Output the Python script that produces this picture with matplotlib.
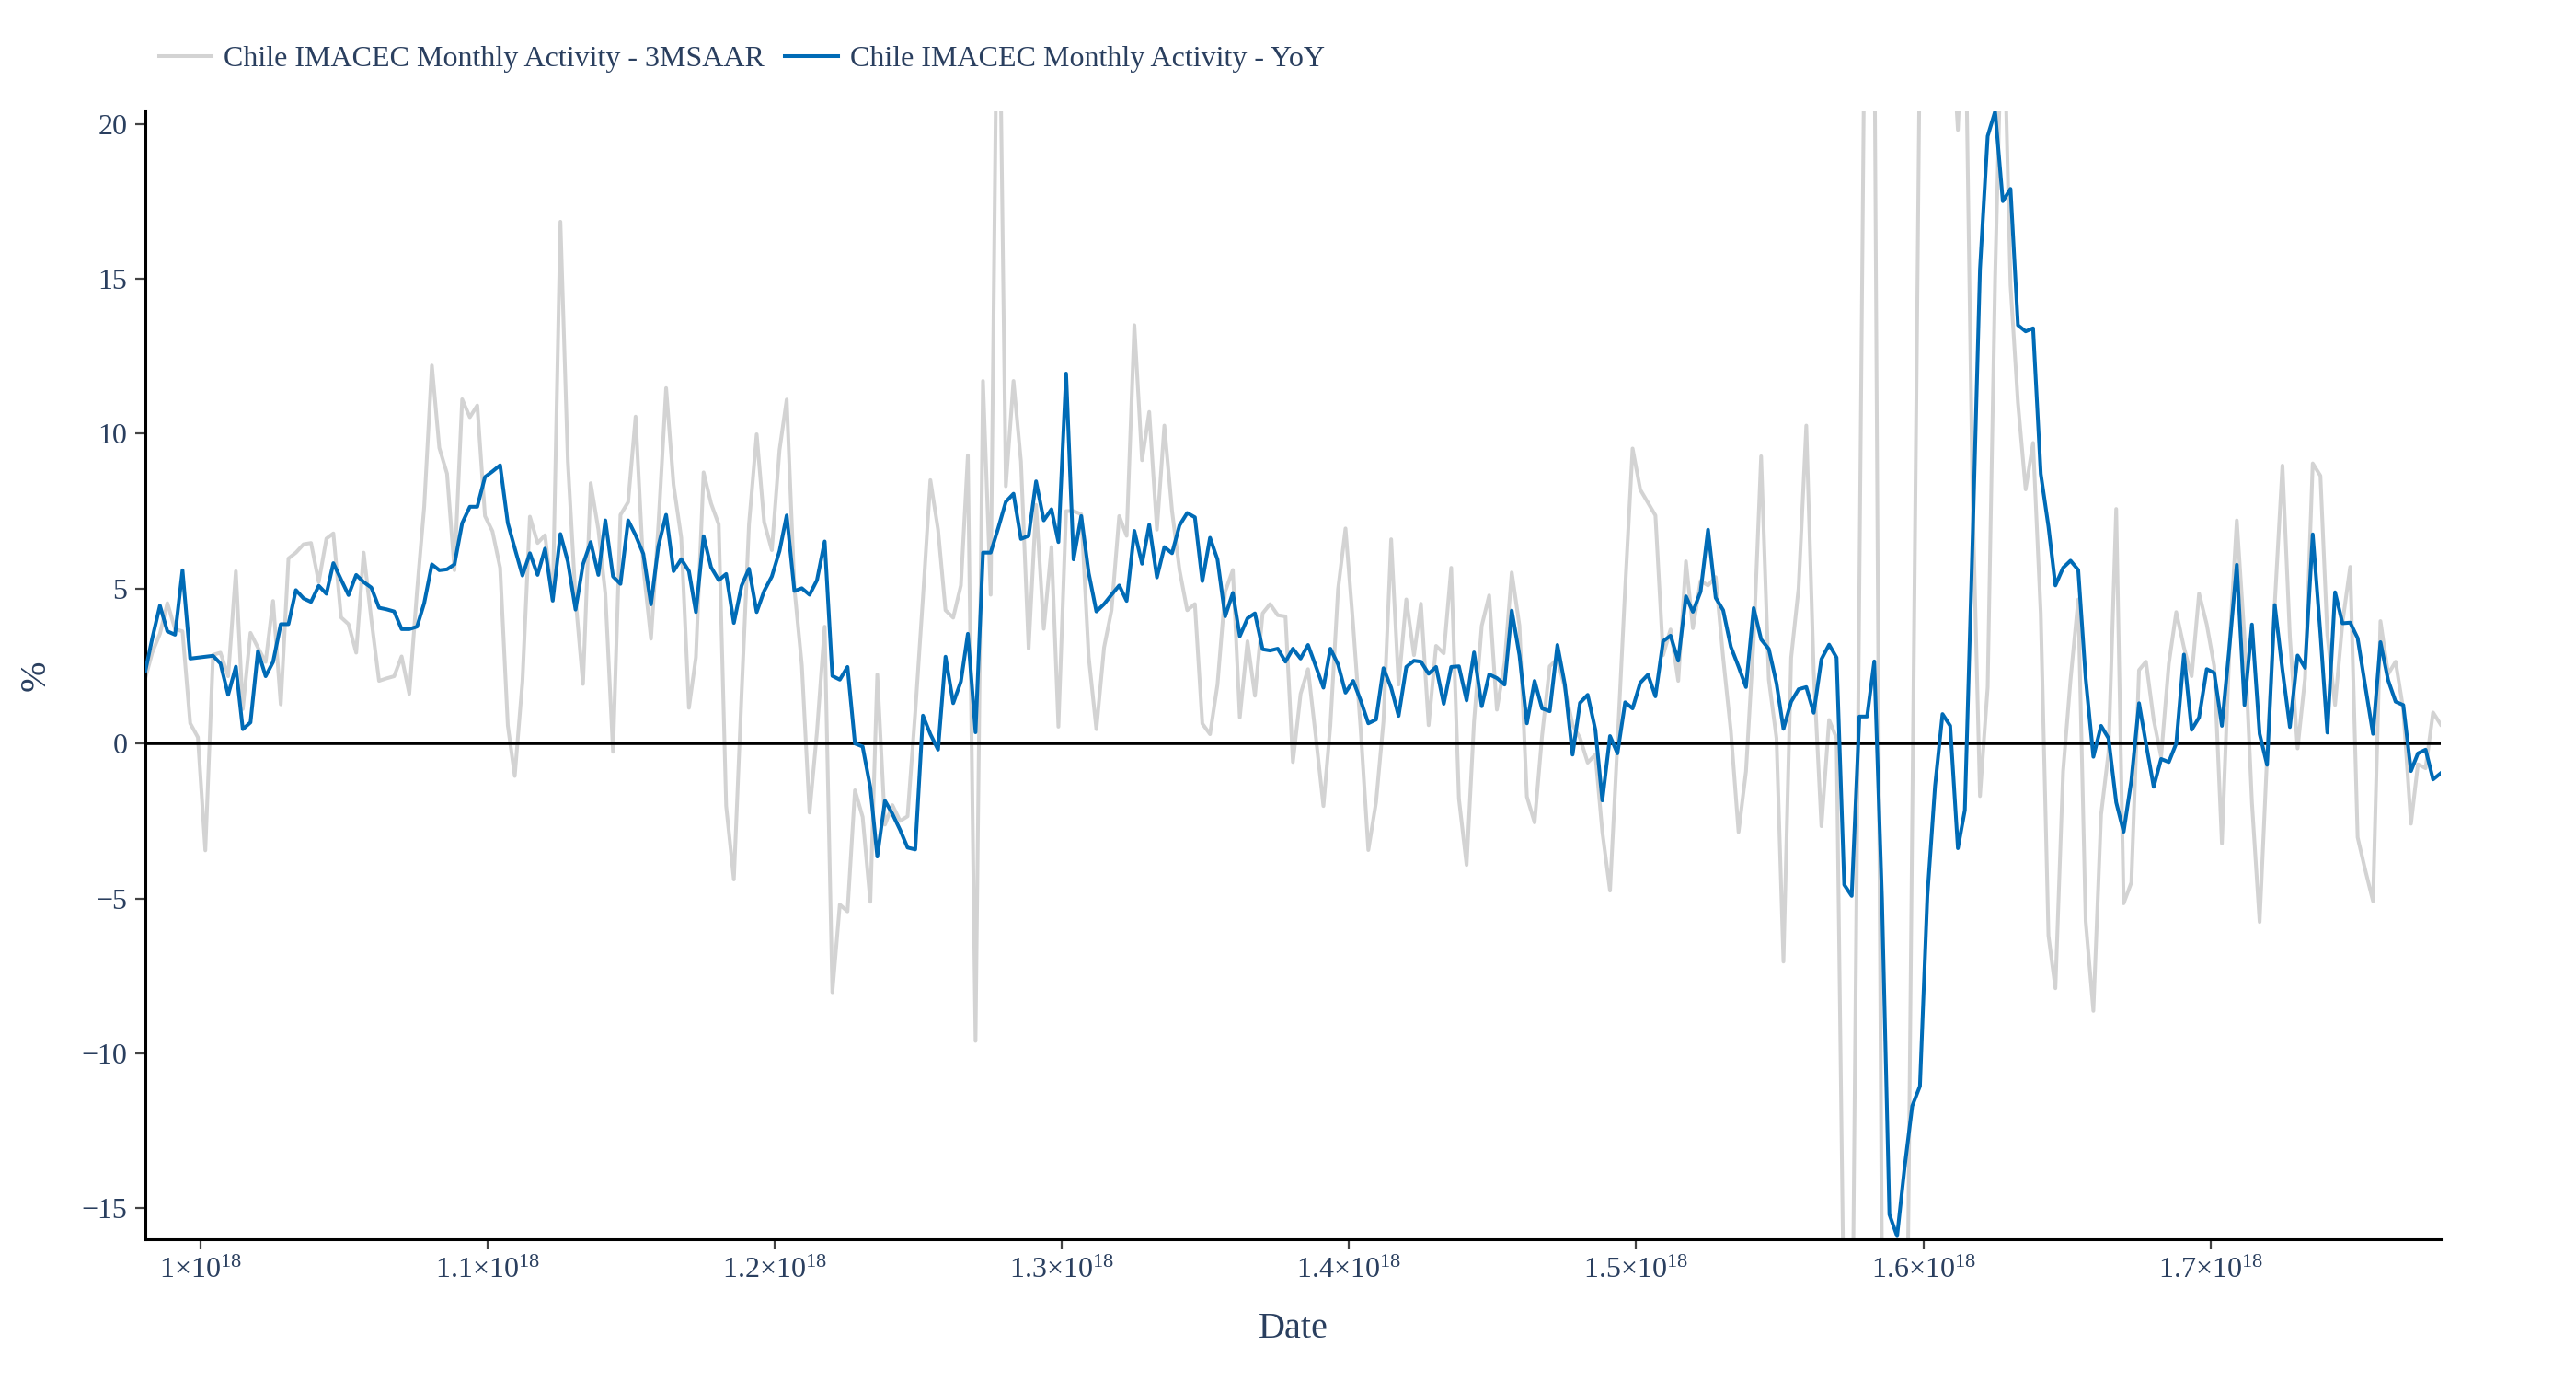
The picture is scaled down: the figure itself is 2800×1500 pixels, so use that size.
import numpy as np
import pandas as pd
import matplotlib
matplotlib.use("Agg")
import matplotlib.pyplot as plt

# Monthly observations, Jan 2001 - May 2026 (month end)
dates = pd.date_range("2001-01-31", "2026-05-31", freq="ME")

# Chile IMACEC - year over year growth (%)
yoy = [
    2.33, 3.39, 4.45, 3.62, 3.51, 5.59, 2.74, 2.77, 2.80, 2.83,
    2.58, 1.57, 2.48, 0.46, 0.68, 2.98, 2.17, 2.63, 3.85, 3.85,
    4.95, 4.68, 4.57, 5.09, 4.83, 5.82, 5.29, 4.79, 5.44, 5.21,
    5.03, 4.38, 4.33, 4.26, 3.69, 3.69, 3.77, 4.53, 5.78, 5.59,
    5.62, 5.78, 7.11, 7.64, 7.64, 8.60, 8.78, 8.98, 7.11, 6.30,
    5.42, 6.14, 5.44, 6.29, 4.61, 6.76, 5.87, 4.32, 5.78, 6.50,
    5.44, 7.20, 5.39, 5.15, 7.20, 6.72, 6.12, 4.49, 6.38, 7.38,
    5.56, 5.95, 5.56, 4.24, 6.69, 5.69, 5.27, 5.47, 3.89, 5.09,
    5.64, 4.24, 4.92, 5.39, 6.21, 7.36, 4.92, 5.01, 4.80, 5.27,
    6.52, 2.18, 2.06, 2.47, 0.00, -0.10, -1.42, -3.65, -1.85, -2.27,
    -2.79, -3.36, -3.42, 0.90, 0.30, -0.20, 2.80, 1.30, 2.00, 3.54,
    0.36, 6.16, 6.16, 6.94, 7.80, 8.06, 6.60, 6.70, 8.46, 7.20,
    7.56, 6.50, 11.94, 5.94, 7.34, 5.50, 4.26, 4.50, 4.80, 5.10,
    4.60, 6.86, 5.80, 7.06, 5.36, 6.34, 6.14, 7.04, 7.44, 7.30,
    5.24, 6.64, 5.94, 4.10, 4.86, 3.46, 4.04, 4.20, 3.04, 3.00,
    3.06, 2.64, 3.06, 2.74, 3.18, 2.50, 1.80, 3.06, 2.55, 1.64,
    2.02, 1.39, 0.65, 0.77, 2.43, 1.80, 0.89, 2.47, 2.67, 2.64,
    2.25, 2.47, 1.28, 2.47, 2.49, 1.39, 2.94, 1.20, 2.23, 2.11,
    1.90, 4.29, 2.85, 0.65, 2.02, 1.13, 1.04, 3.18, 1.90, -0.36,
    1.31, 1.57, 0.44, -1.84, 0.24, -0.32, 1.33, 1.13, 1.96, 2.22,
    1.52, 3.30, 3.48, 2.67, 4.75, 4.25, 4.90, 6.90, 4.70, 4.30,
    3.12, 2.48, 1.82, 4.37, 3.36, 3.05, 1.94, 0.47, 1.35, 1.75,
    1.82, 0.99, 2.72, 3.19, 2.77, -4.56, -4.92, 0.87, 0.87, 2.65,
    -5.00, -15.20, -15.90, -13.70, -11.70, -11.06, -4.92, -1.37, 0.95, 0.57,
    -3.38, -2.15, 6.50, 15.30, 19.60, 20.40, 17.50, 17.90, 13.50, 13.30,
    13.40, 8.70, 7.00, 5.10, 5.67, 5.90, 5.60, 2.10, -0.43, 0.57,
    0.17, -1.90, -2.85, -1.20, 1.30, 0.00, -1.40, -0.50, -0.60, 0.00,
    2.87, 0.44, 0.84, 2.40, 2.28, 0.57, 3.17, 5.77, 1.24, 3.84,
    0.31, -0.69, 4.47, 2.37, 0.53, 2.84, 2.44, 6.75, 3.55, 0.35,
    4.88, 3.88, 3.90, 3.40, 1.84, 0.31, 3.27, 2.04, 1.35, 1.24,
    -0.89, -0.32, -0.20, -1.16, -0.96,
]

# Chile IMACEC - 3 month seasonally adjusted annualised rate (%)
saar3m = [
    2.10, 2.93, 3.54, 4.53, 3.69, 3.62, 0.65, 0.20, -3.45, 2.86,
    2.93, 2.17, 5.56, 1.11, 3.57, 3.09, 2.63, 4.60, 1.26, 5.97,
    6.16, 6.43, 6.47, 5.21, 6.61, 6.78, 4.07, 3.85, 2.93, 6.16,
    4.00, 2.02, 2.10, 2.17, 2.81, 1.60, 4.91, 7.64, 12.20, 9.54,
    8.71, 5.59, 11.11, 10.53, 10.91, 7.34, 6.85, 5.67, 0.58, -1.05,
    2.00, 7.32, 6.47, 6.72, 4.60, 16.84, 9.10, 4.67, 1.92, 8.40,
    6.90, 4.84, -0.27, 7.38, 7.79, 10.55, 5.69, 3.38, 7.07, 11.47,
    8.35, 6.64, 1.15, 2.78, 8.75, 7.75, 7.07, -2.02, -4.39, 1.58,
    7.07, 9.98, 7.15, 6.24, 9.47, 11.10, 5.01, 2.52, -2.23, 0.38,
    3.77, -8.03, -5.20, -5.42, -1.51, -2.37, -5.11, 2.23, -2.62, -1.99,
    -2.50, -2.35, 1.00, 4.70, 8.50, 6.90, 4.30, 4.06, 5.10, 9.30,
    -9.60, 11.70, 4.80, 28.00, 8.30, 11.70, 9.10, 3.06, 7.70, 3.70,
    6.34, 0.54, 7.50, 7.50, 7.40, 2.80, 0.46, 3.10, 4.30, 7.34,
    6.70, 13.50, 9.14, 10.70, 6.90, 10.26, 7.50, 5.60, 4.30, 4.50,
    0.64, 0.30, 1.90, 4.90, 5.60, 0.84, 3.30, 1.54, 4.20, 4.50,
    4.14, 4.10, -0.60, 1.60, 2.40, 0.24, -2.02, 0.59, 4.98, 6.94,
    3.80, 0.47, -3.44, -1.90, 0.71, 6.59, 1.90, 4.65, 2.85, 4.51,
    0.59, 3.15, 2.91, 5.67, -1.78, -3.92, 0.71, 3.80, 4.78, 1.09,
    2.60, 5.52, 3.80, -1.72, -2.55, 0.24, 2.49, 2.73, 1.78, 0.60,
    0.18, -0.62, -0.36, -2.85, -4.75, 0.00, 5.00, 9.52, 8.19, 7.77,
    7.36, 2.85, 3.68, 2.02, 5.88, 3.72, 5.25, 5.10, 5.37, 2.77,
    0.40, -2.86, -0.90, 3.36, 9.27, 2.06, 0.17, -7.04, 2.77, 5.01,
    10.26, 2.30, -2.67, 0.76, 0.17, -19.50, -22.00, 5.00, 32.50, 24.00,
    -17.00, -45.00, -50.00, -28.00, -2.50, 23.00, 40.00, 35.00, 28.00, 24.00,
    19.80, 25.00, 8.00, -1.70, 1.82, 15.00, 25.00, 14.80, 11.00, 8.20,
    9.70, 4.18, -6.20, -7.90, -0.90, 2.06, 4.65, -5.74, -8.63, -2.30,
    -0.29, 7.57, -5.16, -4.49, 2.37, 2.64, 0.77, -0.43, 2.57, 4.24,
    3.10, 2.17, 4.84, 3.84, 2.50, -3.23, 3.20, 7.20, 3.44, -1.90,
    -5.76, -0.43, 4.50, 8.97, 3.44, -0.16, 2.10, 9.04, 8.64, 3.50,
    1.24, 3.90, 5.70, -3.03, -4.09, -5.09, 3.95, 2.24, 2.64, 1.10,
    -2.59, -0.67, -0.80, 1.00, 0.61,
]

series_names = ["Chile IMACEC Monthly Activity - 3MSAAR",
                "Chile IMACEC Monthly Activity - YoY"]
x_ticks = [1.0e18, 1.1e18, 1.2e18, 1.3e18, 1.4e18, 1.5e18, 1.6e18, 1.7e18]
x_tick_labels = ["1", "1.1", "1.2", "1.3", "1.4", "1.5", "1.6", "1.7"]
y_ticks = [-15, -10, -5, 0, 5, 10, 15, 20]

# x axis is shown as raw nanosecond timestamps
x_ns = dates.asi8.astype(float)

text_color = "#2a3f5f"
serif = ["Liberation Serif", "DejaVu Serif"]
plt.rcParams["font.family"] = serif
plt.rcParams["mathtext.fontset"] = "custom"
plt.rcParams["mathtext.rm"] = "Liberation Serif"

fig = plt.figure(figsize=(28, 15), dpi=100)
ax = fig.add_axes([0.0564, 0.102, 0.8911, 0.8173])

ax.plot(x_ns, saar3m, color="#d3d3d3", linewidth=2.9, label=series_names[0], zorder=2)
ax.axhline(0, color="black", linewidth=2.6, zorder=3)
ax.plot(x_ns, yoy, color="#006bb6", linewidth=2.9, label=series_names[1], zorder=4)

ax.set_xlim(x_ns[0], x_ns[-1])
ax.set_ylim(-16, 20.4)

ax.set_xticks(x_ticks)
ax.set_xticklabels([r"$\mathregular{%s{\times}10^{18}}$" % t for t in x_tick_labels])
ax.set_yticks(y_ticks)
ax.set_yticklabels([str(v).replace("-", "\u2212") for v in y_ticks])

for side in ["top", "right"]:
    ax.spines[side].set_visible(False)
for side in ["left", "bottom"]:
    ax.spines[side].set_linewidth(2.2)
    ax.spines[side].set_color("black")

ax.tick_params(axis="both", direction="out", length=8, width=1.6, color="#444444",
               labelsize=23, labelcolor=text_color, pad=6)

ax.set_xlabel("Date", fontsize=29, color=text_color, labelpad=22)
ax.set_ylabel("%", fontsize=29, color=text_color, labelpad=22)

fig.legend(loc="center left", bbox_to_anchor=(0.0515, 0.957), ncol=2, frameon=False,
           fontsize=23, handlelength=1.8, handletextpad=0.4, columnspacing=0.7,
           labelcolor=text_color)

fig.savefig("out.png", dpi=100)
